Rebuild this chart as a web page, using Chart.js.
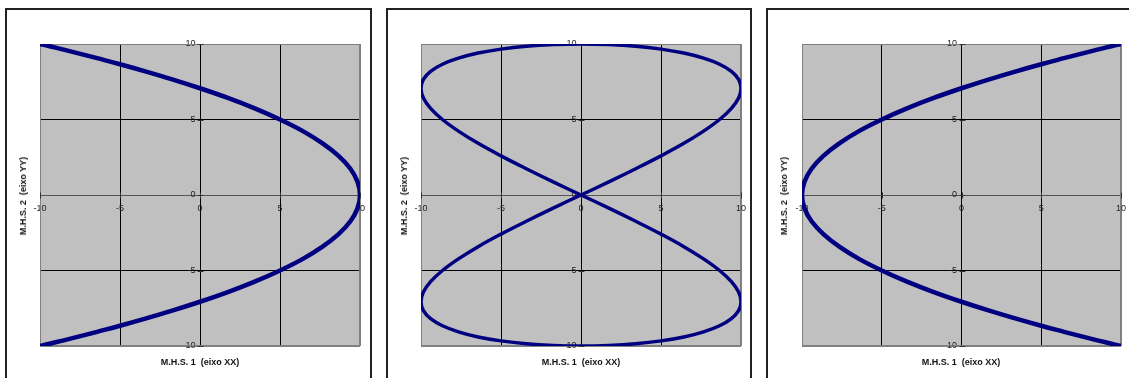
<!DOCTYPE html>
<html>
<head>
<meta charset="utf-8">
<script src="https://cdn.jsdelivr.net/npm/chart.js@4/dist/chart.umd.min.js"></script>
<style>
  html, body { margin: 0; padding: 0; background: #fff; width: 1129px; height: 378px; overflow: hidden; }
  .frame { position: absolute; top: 8px; height: 400px; border: 2px solid #222; box-sizing: border-box; background: #fff; }
  .plot { position: absolute; }
  .xt, .yt { position: absolute; font-family: "Liberation Sans", Arial, sans-serif; font-weight: bold; font-size: 9px; color: #111; white-space: pre; }
  .xt { top: 357px; transform: translateX(-50%); }
  .yt { transform: translate(-50%, -50%) rotate(-90deg); }
</style>
</head>
<body>
<div class="frame" style="left:5px; width:367px;"></div>
<div class="frame" style="left:386px; width:366px;"></div>
<div class="frame" style="left:766px; width:370px;"></div>

<canvas id="c1" class="plot" style="left:24px; top:28px;" width="352" height="334"></canvas>
<canvas id="c2" class="plot" style="left:405px; top:28px;" width="352" height="334"></canvas>
<canvas id="c3" class="plot" style="left:786px; top:28px;" width="351" height="334"></canvas>

<div class="xt" style="left:200px;">M.H.S. 1  (eixo XX)</div>
<div class="xt" style="left:581px;">M.H.S. 1  (eixo XX)</div>
<div class="xt" style="left:961px;">M.H.S. 1  (eixo XX)</div>
<div class="yt" style="left:23px; top:196px;">M.H.S. 2  (eixo YY)</div>
<div class="yt" style="left:404px; top:196px;">M.H.S. 2  (eixo YY)</div>
<div class="yt" style="left:784px; top:196px;">M.H.S. 2  (eixo YY)</div>

<script>
// Axis ticks shared by all three plots
const tickValues = [-10, -5, 0, 5, 10];

// Left plot: M.H.S. 1 against M.H.S. 2, parabola opening to the left
const leftX = [-10, -9.85, -9.40, -8.66, -7.66, -6.43, -5.00, -3.42, -1.74, 0, 1.74, 3.42, 5.00, 6.43, 7.66, 8.66, 9.40, 9.85, 10,
               9.85, 9.40, 8.66, 7.66, 6.43, 5.00, 3.42, 1.74, 0, -1.74, -3.42, -5.00, -6.43, -7.66, -8.66, -9.40, -9.85, -10];
const leftY = [-10, -9.96, -9.85, -9.66, -9.40, -9.06, -8.66, -8.19, -7.66, -7.07, -6.43, -5.74, -5.00, -4.23, -3.42, -2.59, -1.74, -0.87, 0,
               0.87, 1.74, 2.59, 3.42, 4.23, 5.00, 5.74, 6.43, 7.07, 7.66, 8.19, 8.66, 9.06, 9.40, 9.66, 9.85, 9.96, 10];

// Middle plot: figure of eight
const midX = [0, 1.74, 3.42, 5.00, 6.43, 7.66, 8.66, 9.40, 9.85, 10, 9.85, 9.40, 8.66, 7.66, 6.43, 5.00, 3.42, 1.74,
              0, -1.74, -3.42, -5.00, -6.43, -7.66, -8.66, -9.40, -9.85, -10, -9.85, -9.40, -8.66, -7.66, -6.43, -5.00, -3.42, -1.74,
              0, 1.74, 3.42, 5.00, 6.43, 7.66, 8.66, 9.40, 9.85, 10, 9.85, 9.40, 8.66, 7.66, 6.43, 5.00, 3.42, 1.74,
              0, -1.74, -3.42, -5.00, -6.43, -7.66, -8.66, -9.40, -9.85, -10, -9.85, -9.40, -8.66, -7.66, -6.43, -5.00, -3.42, -1.74, 0];
const midY = [0, 0.87, 1.74, 2.59, 3.42, 4.23, 5.00, 5.74, 6.43, 7.07, 7.66, 8.19, 8.66, 9.06, 9.40, 9.66, 9.85, 9.96,
              10, 9.96, 9.85, 9.66, 9.40, 9.06, 8.66, 8.19, 7.66, 7.07, 6.43, 5.74, 5.00, 4.23, 3.42, 2.59, 1.74, 0.87,
              0, -0.87, -1.74, -2.59, -3.42, -4.23, -5.00, -5.74, -6.43, -7.07, -7.66, -8.19, -8.66, -9.06, -9.40, -9.66, -9.85, -9.96,
              -10, -9.96, -9.85, -9.66, -9.40, -9.06, -8.66, -8.19, -7.66, -7.07, -6.43, -5.74, -5.00, -4.23, -3.42, -2.59, -1.74, -0.87, 0];

// Right plot: parabola opening to the right
const rightX = [10, 9.85, 9.40, 8.66, 7.66, 6.43, 5.00, 3.42, 1.74, 0, -1.74, -3.42, -5.00, -6.43, -7.66, -8.66, -9.40, -9.85, -10,
                -9.85, -9.40, -8.66, -7.66, -6.43, -5.00, -3.42, -1.74, 0, 1.74, 3.42, 5.00, 6.43, 7.66, 8.66, 9.40, 9.85, 10];
const rightY = [-10, -9.96, -9.85, -9.66, -9.40, -9.06, -8.66, -8.19, -7.66, -7.07, -6.43, -5.74, -5.00, -4.23, -3.42, -2.59, -1.74, -0.87, 0,
                0.87, 1.74, 2.59, 3.42, 4.23, 5.00, 5.74, 6.43, 7.07, 7.66, 8.19, 8.66, 9.06, 9.40, 9.66, 9.85, 9.96, 10];

const toPoints = (xs, ys) => xs.map((x, i) => ({ x: x, y: ys[i] }));

// Grey plot background, its grey frame and the cross tick marks on both axes
const plotArea = {
  id: 'plotArea',
  beforeDraw(chart) {
    const a = chart.chartArea, ctx = chart.ctx;
    ctx.save();
    ctx.fillStyle = '#C0C0C0';
    ctx.fillRect(a.left, a.top, a.right - a.left, a.bottom - a.top);
    ctx.restore();
  },
  beforeDatasetsDraw(chart) {
    const a = chart.chartArea, ctx = chart.ctx;
    const xs = chart.scales.x, ys = chart.scales.y;
    ctx.save();
    ctx.strokeStyle = '#808080';
    ctx.lineWidth = 1;
    ctx.strokeRect(Math.round(a.left) + 0.5, Math.round(a.top) + 0.5,
                   Math.round(a.right - a.left) - 1, Math.round(a.bottom - a.top) - 1);
    const x0 = Math.round(xs.getPixelForValue(0)) + 0.5;
    const y0 = Math.round(ys.getPixelForValue(0)) + 0.5;
    ctx.strokeStyle = '#333';
    ctx.beginPath();
    tickValues.forEach(v => {
      const py = Math.round(ys.getPixelForValue(v)) + 0.5;
      ctx.moveTo(x0 - 3, py);
      ctx.lineTo(x0 + 3, py);
      const px = Math.round(xs.getPixelForValue(v)) + 0.5;
      ctx.moveTo(px, y0 - 3);
      ctx.lineTo(px, y0 + 3);
    });
    ctx.stroke();
    ctx.restore();
  }
};

const tickFont = { family: '"Liberation Sans", Arial, sans-serif', size: 9 };

function makeChart(id, xs, ys, width) {
  new Chart(document.getElementById(id), {
    type: 'scatter',
    data: {
      datasets: [{
        data: toPoints(xs, ys),
        showLine: true,
        borderColor: '#000080',
        borderWidth: width,
        pointRadius: 0,
        tension: 0.4,
        fill: false
      }]
    },
    options: {
      responsive: false,
      animation: false,
      layout: { padding: 16 },
      plugins: { legend: { display: false }, tooltip: { enabled: false } },
      scales: {
        x: {
          type: 'linear',
          position: { y: 0 },
          min: -10, max: 10,
          afterBuildTicks: s => { s.ticks = tickValues.map(v => ({ value: v })); },
          grid: {
            color: c => (c.tick && Math.abs(c.tick.value) === 10) ? '#808080' : '#000',
            lineWidth: 1,
            drawTicks: false
          },
          border: { display: true, color: '#555', width: 1 },
          ticks: { font: tickFont, color: '#222', padding: 8, maxRotation: 0, autoSkip: false }
        },
        y: {
          type: 'linear',
          // labels sit just left of the vertical axis line
          position: { x: -0.28 },
          min: -10, max: 10,
          afterBuildTicks: s => { s.ticks = tickValues.map(v => ({ value: v })); },
          grid: {
            color: c => {
              if (!c.tick) return '#000';
              if (Math.abs(c.tick.value) === 10) return '#808080';
              return c.tick.value === 0 ? '#555' : '#000';
            },
            lineWidth: 1,
            drawTicks: false
          },
          border: { display: false },
          ticks: { font: tickFont, color: '#222', autoSkip: false }
        }
      }
    },
    plugins: [plotArea]
  });
}

makeChart('c1', leftX, leftY, 4.5);
makeChart('c2', midX, midY, 3.5);
makeChart('c3', rightX, rightY, 4.5);
</script>
</body>
</html>
